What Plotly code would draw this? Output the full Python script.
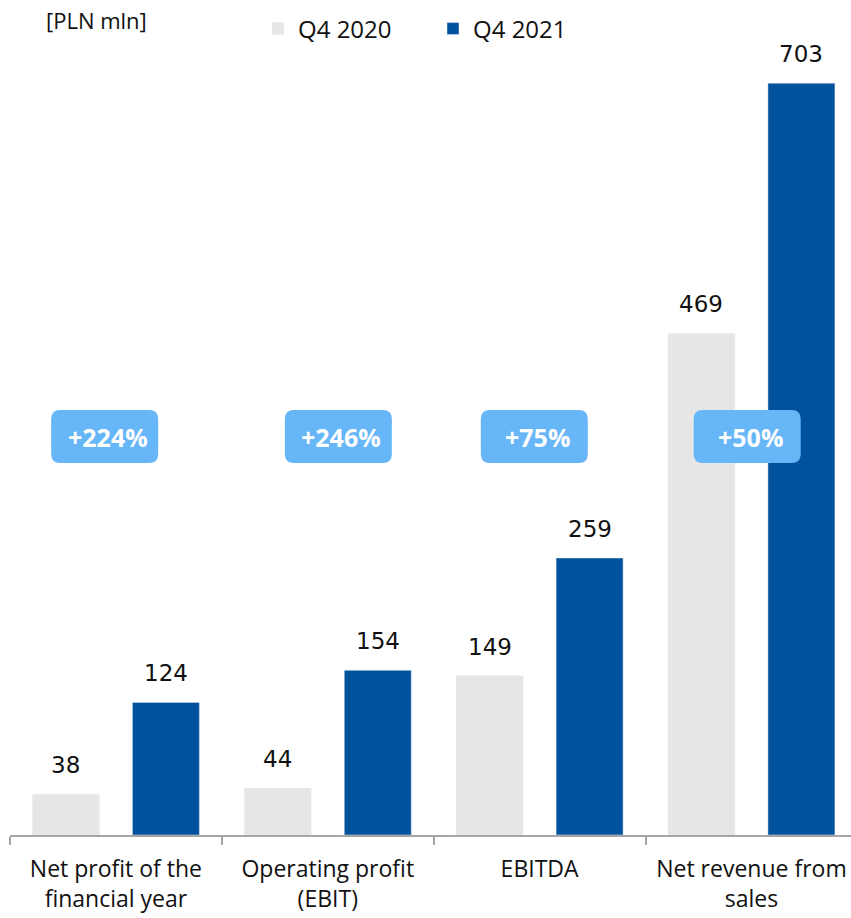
import plotly.graph_objects as go

categories = ["Net profit of the<br>financial year", "Operating profit<br>(EBIT)", "EBITDA", "Net revenue from<br>sales"]
q4_2020 = [38, 44, 149, 469]
q4_2021 = [124, 154, 259, 703]
series_names = ["Q4 2020", "Q4 2021"]
change_labels = ["+224%", "+246%", "+75%", "+50%"]
unit_label = "[PLN mln]"

GRAY = "#E6E6E6"
BLUE = "#00529C"
BADGE = "#66B6F8"
FONT = "Open Sans"
NUMFONT = "DejaVu Sans"
TXT = "#111111"

fig = go.Figure()
fig.add_trace(go.Bar(x=categories, y=q4_2020, name=series_names[0], marker_color=GRAY))
fig.add_trace(go.Bar(x=categories, y=q4_2021, name=series_names[1], marker_color=BLUE))

annotations = []
for i, c in enumerate(categories):
    for vals, shift in ((q4_2020, -50), (q4_2021, 50)):
        annotations.append(dict(x=c, y=vals[i], xref="x", yref="y", text=str(vals[i]),
                                showarrow=False, yanchor="bottom", xshift=shift, yshift=14,
                                font=dict(family=NUMFONT, size=23, color=TXT)))

badge_offsets = [-0.053, 0.05, -0.025, -0.02]
badge_y = 372.5
w, h, r = 107, 53, 9
hx, hy = w / 2, h / 2
path = (f"M {-hx + r},{-hy} L {hx - r},{-hy} Q {hx},{-hy} {hx},{-hy + r} "
        f"L {hx},{hy - r} Q {hx},{hy} {hx - r},{hy} L {-hx + r},{hy} "
        f"Q {-hx},{hy} {-hx},{hy - r} L {-hx},{-hy + r} Q {-hx},{-hy} {-hx + r},{-hy} Z")
shapes = []
for i, lab in enumerate(change_labels):
    xc = i + badge_offsets[i]
    shapes.append(dict(type="path", xref="x", yref="y", xsizemode="pixel", ysizemode="pixel",
                       xanchor=xc, yanchor=badge_y, path=path, fillcolor=BADGE,
                       line=dict(width=0), layer="above"))
    annotations.append(dict(x=xc, y=badge_y, xref="x", yref="y", text=f"<b>{lab}</b>",
                            showarrow=False, xshift=3,
                            font=dict(family=FONT, size=25, color="white")))

annotations.append(dict(x=(44 - 10) / 841, y=(835 - 20) / 800, xref="paper", yref="paper",
                        text=unit_label, showarrow=False, xanchor="left", yanchor="middle",
                        font=dict(family=FONT, size=22, color=TXT)))

fig.update_layout(
    width=851, height=918,
    margin=dict(l=10, r=0, t=35, b=83),
    paper_bgcolor="white", plot_bgcolor="white",
    barmode="group", bargap=0.056, bargroupgap=0.33,
    font=dict(family=FONT, size=23, color=TXT),
    showlegend=True,
    legend=dict(orientation="h", x=(258 - 10) / 841, y=(835 - 29) / 800, xanchor="left", yanchor="middle",
                font=dict(family=FONT, size=24, color=TXT), bgcolor="rgba(0,0,0,0)",
                entrywidth=130, tracegroupgap=0),
    xaxis=dict(range=[-0.5, 3.47], showline=True, linecolor="#A6A6A6", linewidth=1.5,
               ticks="outside", tickson="boundaries", ticklen=8, tickcolor="#A6A6A6",
               tickwidth=1.5, showgrid=False, ticklabelstandoff=13,
               tickfont=dict(family=FONT, size=23, color=TXT)),
    yaxis=dict(range=[0, 748], visible=False, showgrid=False),
    annotations=annotations,
    shapes=shapes,
)

fig.write_html("out.html", config={"displayModeBar": False},
               post_script="document.body.style.margin='0';document.body.style.overflow='hidden';")
